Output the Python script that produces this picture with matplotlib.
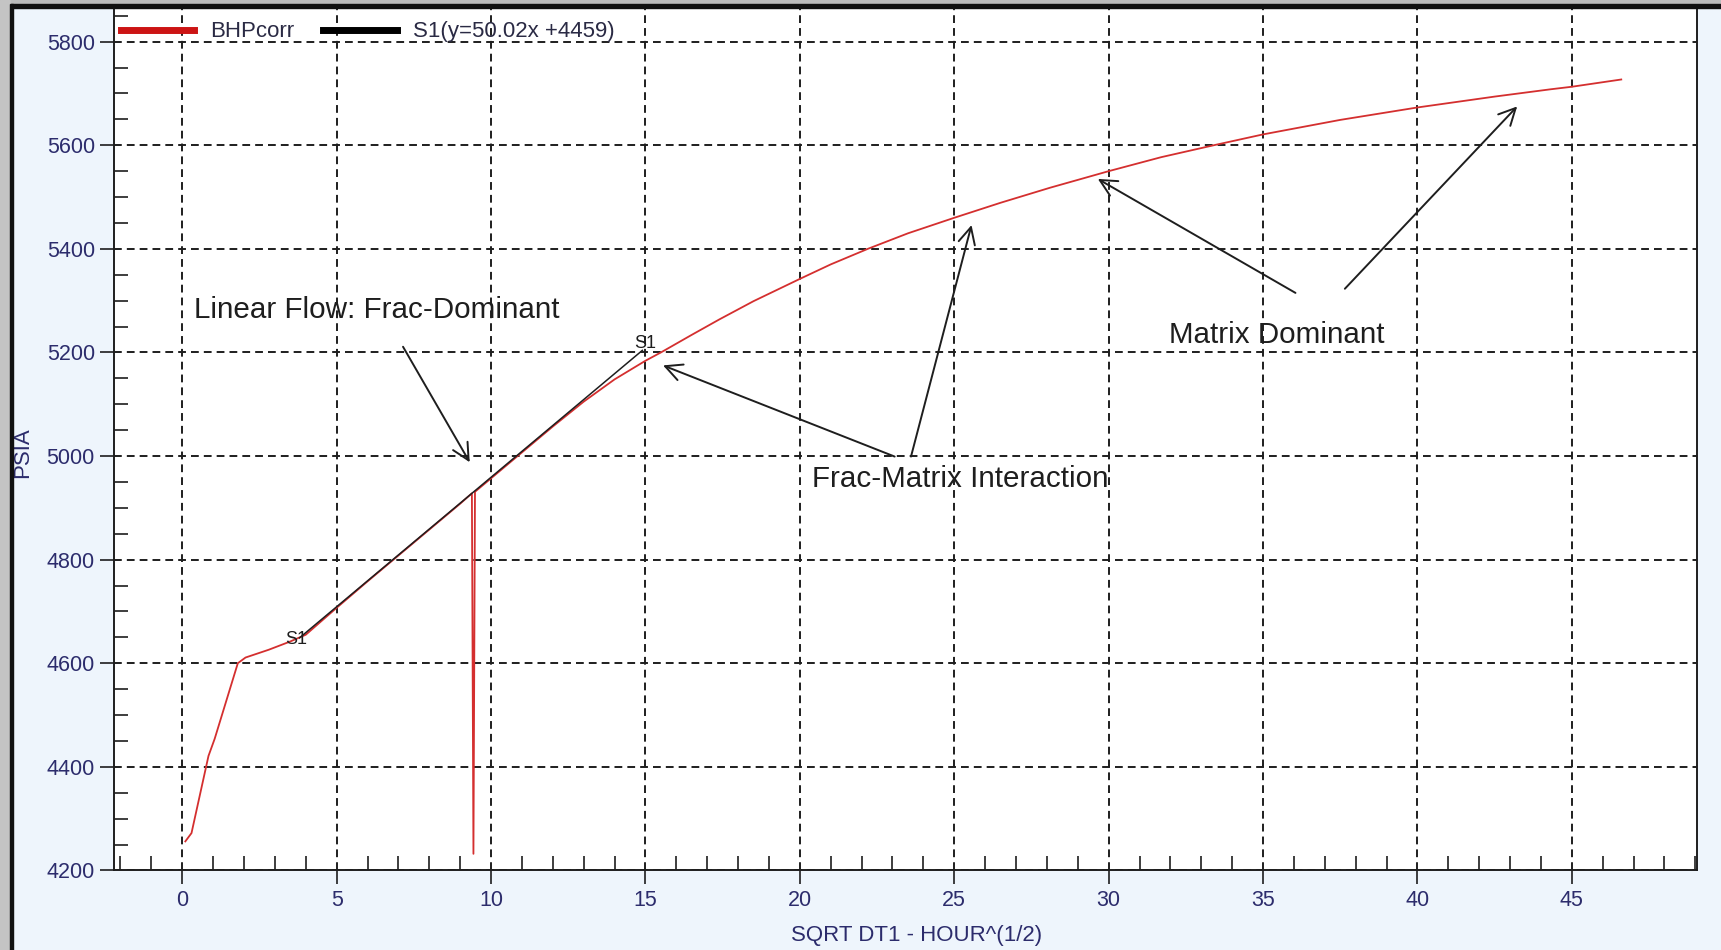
import matplotlib
matplotlib.use('Agg')
import matplotlib.pyplot as plt
from matplotlib.lines import Line2D
from matplotlib.patches import Rectangle
from matplotlib.ticker import MultipleLocator

# BHPcorr curve (spike near x=9.4 is in the data)
bhp_x = [0.1, 0.3, 0.85, 1.05, 1.8, 2.05, 2.8, 3.5, 4.0, 5.0, 6.0, 7.0, 8.0, 9.0,
         9.38, 9.43, 9.48, 10.0, 11.0, 12.0, 13.0, 14.0, 15.0, 15.5, 16.5, 17.4,
         18.5, 20.0, 21.0, 22.2, 23.5, 25.0, 26.5, 28.1, 30.0, 31.7, 33.4, 35.0,
         37.5, 40.0, 42.5, 44.3, 45.0, 46.6]
bhp_y = [4256, 4272, 4421, 4454, 4600, 4611, 4626, 4642, 4655, 4707, 4758, 4808,
         4858, 4908, 4928, 4232, 4931, 4957, 5007, 5057, 5105, 5148, 5184, 5200,
         5234, 5264, 5299, 5342, 5370, 5400, 5430, 5460, 5489, 5518, 5550, 5577,
         5600, 5621, 5649, 5673, 5694, 5708, 5713, 5727]

# S1 straight-line fit endpoints
s1_x = [3.8, 14.9]
s1_y = [4649, 5204]
s1_label = 'S1(y=50.02x +4459)'

# annotations: text, position, arrows (start -> end)
notes = ['Linear Flow: Frac-Dominant', 'Frac-Matrix Interaction', 'Matrix Dominant']
note_xy = [(0.39, 5281), (20.4, 4955), (31.96, 5234)]
arrow_from = [(7.15, 5211), (23.07, 4999), (23.6, 4999), (36.05, 5315), (37.65, 5323)]
arrow_to = [(9.31, 4988), (15.57, 5175), (25.56, 5446), (29.65, 5535), (43.23, 5675)]
s1_marks = [(3.7, 4645), (15.0, 5218)]

RED = '#d42f2f'
NAVY = '#2c2c6c'
INK = '#1e1e1e'

plt.rcParams['font.family'] = ['Liberation Sans', 'DejaVu Sans']

fig = plt.figure(figsize=(17.21, 9.5), dpi=100, facecolor='#eef5fc')
W, H = 1721.0, 950.0
ax = fig.add_axes([114.3 / W, 1 - 870.4 / H, (1696.6 - 114.3) / W, (870.4 - 7.5) / H])
ax.set_facecolor('white')

# frame around the window
fig.add_artist(Rectangle((0, 1 - 4 / H), 1, 4 / H, transform=fig.transFigure,
                         color='#bcbcbc', zorder=10))
fig.add_artist(Rectangle((0, 1 - 7.5 / H), 1, 3.5 / H, transform=fig.transFigure,
                         color='#111111', zorder=10))
fig.add_artist(Rectangle((0, 0), 10 / W, 1, transform=fig.transFigure,
                         color='#c4c4c4', zorder=10))
fig.add_artist(Rectangle((10 / W, 0), 3 / W, 1 - 4 / H, transform=fig.transFigure,
                         color='#111111', zorder=10))

ax.plot(bhp_x, bhp_y, color=RED, lw=1.3, zorder=3)
ax.plot(s1_x, s1_y, color=INK, lw=1.1, zorder=4)

ax.set_xlim(-2.2, 49.04)
ax.set_ylim(4200, 5866)

ax.xaxis.set_major_locator(MultipleLocator(5))
ax.xaxis.set_minor_locator(MultipleLocator(1))
ax.yaxis.set_major_locator(MultipleLocator(200))
ax.yaxis.set_minor_locator(MultipleLocator(50))
ax.set_xticks([0, 5, 10, 15, 20, 25, 30, 35, 40, 45])
ax.set_yticks([4200, 4400, 4600, 4800, 5000, 5200, 5400, 5600, 5800])

ax.tick_params(which='major', direction='out', length=10, width=1.2,
               color=INK, labelcolor=NAVY, labelsize=15.5, pad=4)
ax.tick_params(which='minor', direction='in', length=10, width=1.2, color=INK)
ax.grid(True, which='major', color=INK, lw=1.4, linestyle=(0, (4, 2.6)))

for s in ax.spines.values():
    s.set_color(INK)
    s.set_linewidth(1.4)

ax.set_xlabel('SQRT DT1 - HOUR^(1/2)', fontsize=16, color=NAVY)
ax.xaxis.set_label_coords(0.507, -0.063)
ax.set_ylabel('PSIA', fontsize=16, color=NAVY)
ax.yaxis.set_label_coords(-0.0514, 0.484)

handles = [Line2D([], [], color='#cc1414', lw=5),
           Line2D([], [], color='black', lw=5)]
ax.legend(handles, ['BHPcorr', s1_label], loc='upper left', ncol=2,
          bbox_to_anchor=(0.0042, 0.984), frameon=False, fontsize=16,
          handlelength=3.3, handletextpad=0.72, columnspacing=1.3,
          borderpad=0, borderaxespad=0, labelcolor='#2a2a44')

for txt, (tx, ty) in zip(notes, note_xy):
    ax.text(tx, ty, txt, fontsize=21.3, color=INK, ha='left', va='center', zorder=6)

for (x0, y0), (x1, y1) in zip(arrow_from, arrow_to):
    ax.annotate('', xy=(x1, y1), xytext=(x0, y0), zorder=6,
                arrowprops=dict(arrowstyle='->', color=INK, lw=1.4,
                                shrinkA=0, shrinkB=0, mutation_scale=30))

for mx, my in s1_marks:
    ax.text(mx, my, 'S1', fontsize=13, color=INK, ha='center', va='center', zorder=6)

fig.savefig('out.png', dpi=100, facecolor=fig.get_facecolor())
